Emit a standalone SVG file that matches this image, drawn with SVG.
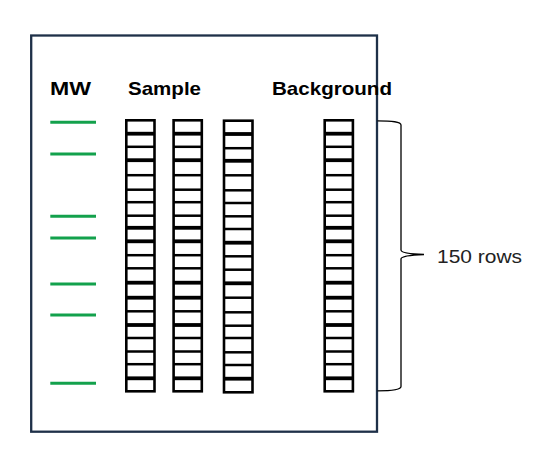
<svg xmlns="http://www.w3.org/2000/svg" xmlns:xlink="http://www.w3.org/1999/xlink" width="555" height="452" viewBox="0 0 555 452">
<style>
.frame{fill:#fff;stroke:#1e3048;stroke-width:2.3}
.head{font-family:"Liberation Sans",Arial,sans-serif;font-weight:bold;font-size:19px;fill:#000}
.lbl{font-family:"Liberation Sans",Arial,sans-serif;font-size:19px;fill:#222}
.mw{stroke:#13a14c;stroke-width:3;fill:none}
.box{fill:#fff;stroke:#000;stroke-width:2.6}
.t{stroke:#000;stroke-width:2.5}
.T{stroke:#000;stroke-width:3.8}
.brace{fill:none;stroke:#000;stroke-width:1.3}
</style>
<defs>
<g id="ladderA">
<rect class="box" x="0" y="120.3" width="28.2" height="271"/>
<line class="T" x1="0" x2="28.2" y1="133.7" y2="133.7"/>
<line class="t" x1="0" x2="28.2" y1="146.8" y2="146.8"/>
<line class="T" x1="0" x2="28.2" y1="160.2" y2="160.2"/>
<line class="t" x1="0" x2="28.2" y1="175.2" y2="175.2"/>
<line class="t" x1="0" x2="28.2" y1="189.7" y2="189.7"/>
<line class="t" x1="0" x2="28.2" y1="202.2" y2="202.2"/>
<line class="t" x1="0" x2="28.2" y1="215.7" y2="215.7"/>
<line class="T" x1="0" x2="28.2" y1="227.8" y2="227.8"/>
<line class="T" x1="0" x2="28.2" y1="241.3" y2="241.3"/>
<line class="t" x1="0" x2="28.2" y1="255.2" y2="255.2"/>
<line class="t" x1="0" x2="28.2" y1="268.3" y2="268.3"/>
<line class="T" x1="0" x2="28.2" y1="282.7" y2="282.7"/>
<line class="T" x1="0" x2="28.2" y1="297.7" y2="297.7"/>
<line class="t" x1="0" x2="28.2" y1="311.3" y2="311.3"/>
<line class="T" x1="0" x2="28.2" y1="325" y2="325"/>
<line class="t" x1="0" x2="28.2" y1="338" y2="338"/>
<line class="t" x1="0" x2="28.2" y1="351.5" y2="351.5"/>
<line class="t" x1="0" x2="28.2" y1="364.2" y2="364.2"/>
<line class="T" x1="0" x2="28.2" y1="378.3" y2="378.3"/>
</g>
<g id="ladderB">
<rect class="box" x="0" y="120.7" width="28.5" height="271.6"/>
<line class="T" x1="0" x2="28.5" y1="134" y2="134"/>
<line class="t" x1="0" x2="28.5" y1="148.2" y2="148.2"/>
<line class="T" x1="0" x2="28.5" y1="160.8" y2="160.8"/>
<line class="t" x1="0" x2="28.5" y1="175.3" y2="175.3"/>
<line class="t" x1="0" x2="28.5" y1="190.3" y2="190.3"/>
<line class="t" x1="0" x2="28.5" y1="203" y2="203"/>
<line class="t" x1="0" x2="28.5" y1="216.3" y2="216.3"/>
<line class="t" x1="0" x2="28.5" y1="229" y2="229"/>
<line class="T" x1="0" x2="28.5" y1="242.7" y2="242.7"/>
<line class="t" x1="0" x2="28.5" y1="256.3" y2="256.3"/>
<line class="t" x1="0" x2="28.5" y1="269.7" y2="269.7"/>
<line class="T" x1="0" x2="28.5" y1="283.3" y2="283.3"/>
<line class="t" x1="0" x2="28.5" y1="297.7" y2="297.7"/>
<line class="t" x1="0" x2="28.5" y1="312.3" y2="312.3"/>
<line class="t" x1="0" x2="28.5" y1="325.7" y2="325.7"/>
<line class="t" x1="0" x2="28.5" y1="338" y2="338"/>
<line class="t" x1="0" x2="28.5" y1="352.3" y2="352.3"/>
<line class="t" x1="0" x2="28.5" y1="365" y2="365"/>
<line class="T" x1="0" x2="28.5" y1="378.7" y2="378.7"/>
</g>
</defs>
<rect width="555" height="452" fill="#fff"/>
<g id="frame">
<rect class="frame" x="31.2" y="35.5" width="345.8" height="396.2"/>
</g>
<g id="labels">
<text class="head" x="50" y="95" textLength="41" lengthAdjust="spacingAndGlyphs">MW</text>
<text class="head" x="128" y="95" textLength="73" lengthAdjust="spacingAndGlyphs">Sample</text>
<text class="head" x="272" y="95" textLength="120" lengthAdjust="spacingAndGlyphs">Background</text>
</g>
<g id="mw-ladder">
<line class="mw" x1="50.3" x2="96" y1="122.3" y2="122.3"/>
<line class="mw" x1="50.3" x2="96" y1="154" y2="154"/>
<line class="mw" x1="50.3" x2="96" y1="216.3" y2="216.3"/>
<line class="mw" x1="50.3" x2="96" y1="238" y2="238"/>
<line class="mw" x1="50.3" x2="96" y1="284" y2="284"/>
<line class="mw" x1="50.3" x2="96" y1="315" y2="315"/>
<line class="mw" x1="50.3" x2="96" y1="383.3" y2="383.3"/>
</g>
<g id="sample1"><use xlink:href="#ladderA" href="#ladderA" transform="translate(126.3,0)"/></g>
<g id="sample2"><use xlink:href="#ladderA" href="#ladderA" transform="translate(173.6,0)"/></g>
<g id="sample3"><use xlink:href="#ladderB" href="#ladderB" transform="translate(224,0)"/></g>
<g id="background"><use xlink:href="#ladderA" href="#ladderA" transform="translate(324.7,0)"/></g>
<g id="connectors">
<path class="brace" d="M377.5,120.8 C392,120.8 401,121.5 401,125 L401,250 C401,252.5 410,254 424,254.5 C410,255 401,256.5 401,259 L401,386.5 C401,389.5 392,390.8 377.5,390.8"/>
</g>
<g id="rows-label">
<text class="lbl" x="437" y="263" textLength="85" lengthAdjust="spacingAndGlyphs">150 rows</text>
</g>
</svg>
